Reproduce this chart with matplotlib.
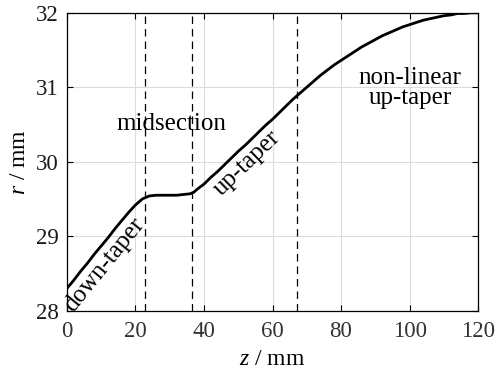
import numpy as np
import matplotlib.pyplot as plt

plt.rcParams['font.family'] = ['Liberation Serif', 'DejaVu Serif']
plt.rcParams['mathtext.fontset'] = 'custom'
plt.rcParams['mathtext.it'] = 'Liberation Serif:italic'
plt.rcParams['mathtext.rm'] = 'Liberation Serif'

# taper profile
z = [0, 2, 4, 6, 8, 10, 12, 14, 16, 18, 20, 22, 24, 26, 28, 30, 32, 34, 36, 37, 38,
     40, 42, 44, 46, 48, 50, 52, 54, 56, 58, 60, 62, 64, 66, 67, 68, 70, 72, 74, 76,
     78, 80, 82, 84, 86, 88, 90, 92, 94, 96, 98, 100, 102, 104, 106, 108, 110, 112,
     114, 116, 118, 120]
r = [28.30, 28.41, 28.53, 28.64, 28.76, 28.87, 28.98, 29.10, 29.21, 29.32, 29.42,
     29.50, 29.54, 29.55, 29.55, 29.55, 29.55, 29.56, 29.57, 29.59, 29.63,
     29.70, 29.79, 29.87, 29.96, 30.05, 30.14, 30.22, 30.31, 30.40, 30.49, 30.57,
     30.66, 30.75, 30.84, 30.88, 30.92, 31.00, 31.08, 31.16, 31.23,
     31.30, 31.36, 31.42, 31.48, 31.54, 31.59, 31.64, 31.69, 31.73, 31.77, 31.81,
     31.84, 31.87, 31.90, 31.92, 31.94, 31.96, 31.97, 31.99, 31.99, 32.00, 32.00]

# section boundaries
bounds = [22.9, 36.6, 67.0]

fig, ax = plt.subplots(figsize=(4.98, 3.75), dpi=100)
fig.subplots_adjust(left=0.1345, right=0.96, top=0.966, bottom=0.1715)

ax.grid(True, color='#dcdcdc', linewidth=0.8)
ax.set_axisbelow(True)

for b in bounds:
    ax.axvline(b, color='black', linewidth=0.9, linestyle=(0, (6, 4)))

ax.plot(z, r, color='black', linewidth=2)

ax.set_xlim(0, 120)
ax.set_ylim(28, 32)
ax.set_xticks(np.arange(0, 121, 20))
ax.set_yticks([28, 29, 30, 31, 32])
ax.tick_params(direction='in', top=True, right=True, labelsize=16.5,
               length=4, width=0.8)
ax.tick_params(axis='x', pad=7.5, labelcolor='#333333')
ax.tick_params(axis='y', pad=6, labelcolor='#1a1a1a')
for s in ax.spines.values():
    s.set_linewidth(0.9)

ax.set_xlabel('$z$ / mm', fontsize=17, labelpad=5)
ax.set_ylabel('$r$ / mm', fontsize=17, labelpad=4)

ax.text(30.6, 30.51, 'midsection', fontsize=18, ha='center', va='center')
ax.text(11.0, 28.62, 'down-taper', fontsize=18, ha='center', va='center', rotation=51)
ax.text(52.5, 29.98, 'up-taper', fontsize=18, ha='center', va='center', rotation=44)
ax.text(100.1, 30.99, 'non-linear\nup-taper', fontsize=18, ha='center', va='center',
        linespacing=0.85)

plt.savefig('out.png', dpi=100)
